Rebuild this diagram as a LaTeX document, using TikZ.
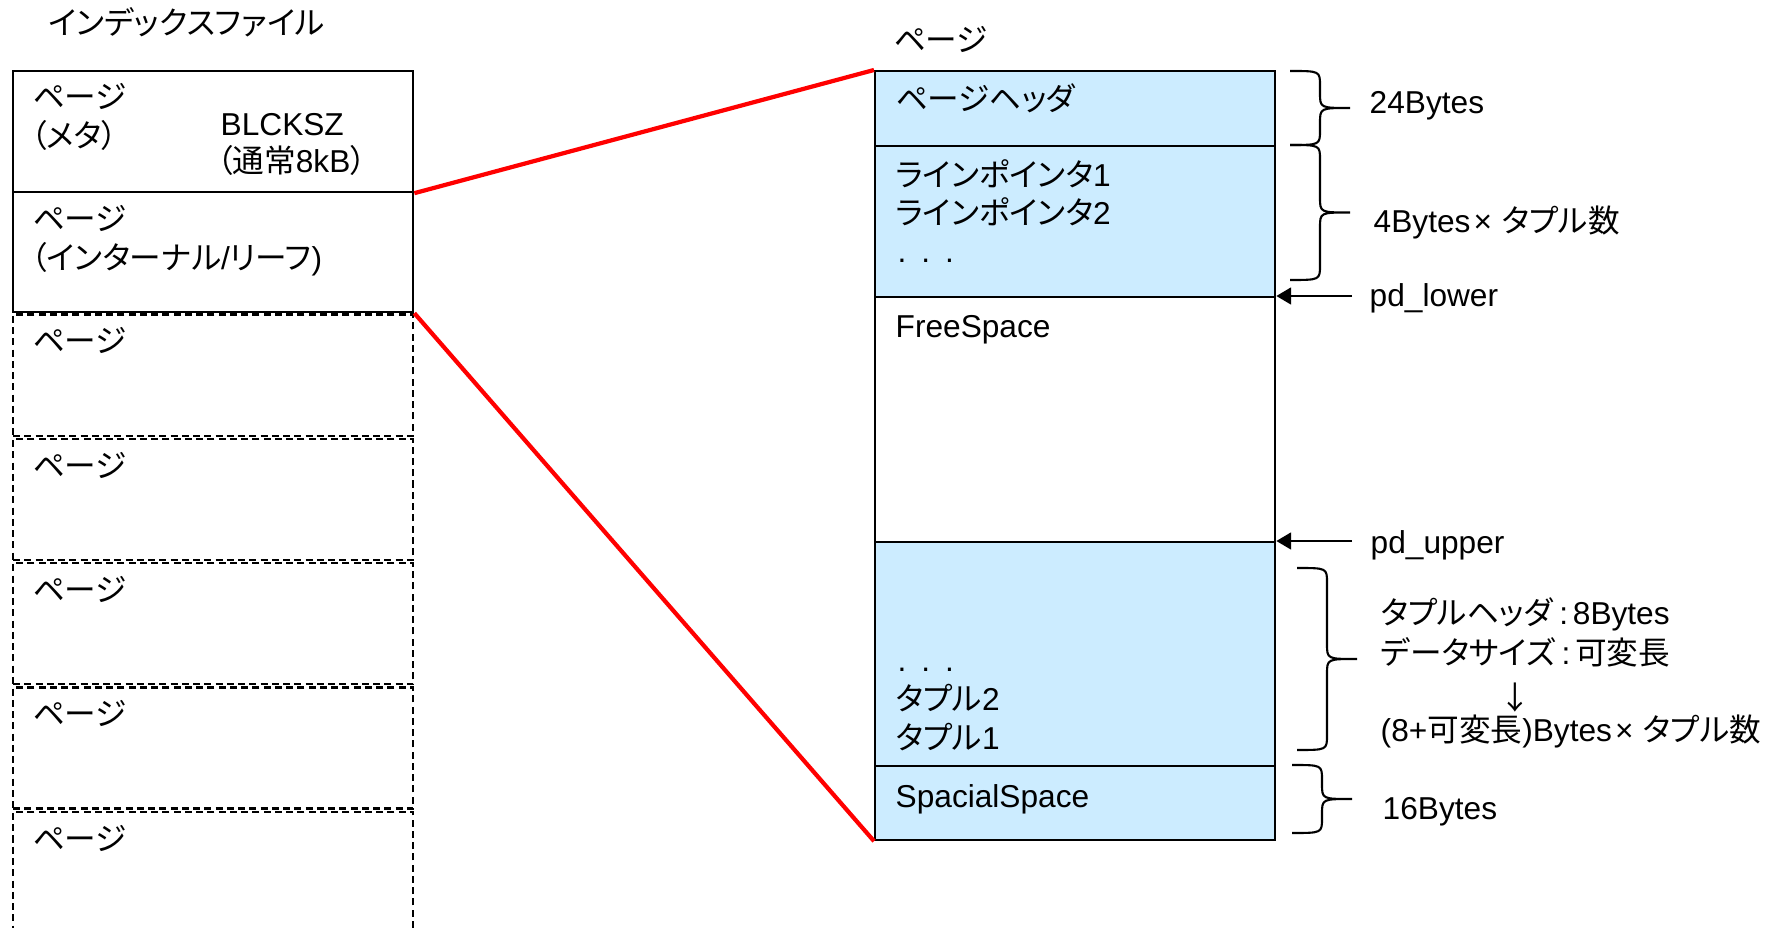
\documentclass[tikz,border=0pt]{standalone}
\usepackage{fontspec}
\setmainfont{Liberation Sans}
\newfontfamily\jp[RawFeature=+palt]{Noto Sans CJK JP}
\definecolor{CellColor}{RGB}{204,236,255}
\definecolor{LinkColor}{RGB}{255,0,0}
\usetikzlibrary{arrows.meta}
\tikzstyle{txt} = [inner sep=0pt, anchor=base west, font=\fontsize{9pt}{11pt}\selectfont]
\tikzstyle{page} = [draw, line width=0.6pt, minimum width=4cm, anchor=north west, inner sep=0pt]
\tikzstyle{cell} = [page, fill=CellColor]
\tikzstyle{spare} = [page, dash pattern=on 2pt off 1.2pt]
\tikzstyle{link} = [line width=1.2pt, LinkColor]
\tikzstyle{ptr} = [line width=0.6pt, -{Triangle[length=4.2pt,width=4.8pt]}]
\tikzstyle{brc} = [line width=0.6pt]
\newcommand{\sizebrace}[3]{%
  \draw[brc] (#1,#2) .. controls ({#1+30},#2) .. ({#1+30},{#2+15})
    -- ({#1+30},{(#2+#3)/2-15}) .. controls ({#1+30},{(#2+#3)/2}) .. ({#1+60},{(#2+#3)/2})
    .. controls ({#1+30},{(#2+#3)/2}) .. ({#1+30},{(#2+#3)/2+15})
    -- ({#1+30},{#3-15}) .. controls ({#1+30},#3) .. (#1,#3);}
\begin{document}
\begin{tikzpicture}[x=0.01cm, y=-0.01cm]
                \useasboundingbox (0,0) rectangle (1773,928);

                % Index file
                \node[txt] (idxttl) at (48,35) {\jp インデックスファイル};
                \node[page, minimum height=1.21cm] (meta) at (12,70) {};
                \node[page, minimum height=1.20cm] (inner) at (12,191) {};
                \foreach \i in {0,...,4} {
                    \node[spare, minimum height=1.21cm] (leaf\i) at (12,{313.5+124.3*\i}) {};
                    \node[txt] (leafp\i) at (32,{353+124.3*\i}) {\jp ページ};
                }
                \node[txt] (metap) at (32,109) {\jp ページ};
                \node[txt] (metam) at (30,148) {\jp （メタ）};
                \node[txt] (blk) at (220,136) {BLCKSZ};
                \node[txt] (blkn) at (216,173) {{\jp （通常}8kB{\jp ）}};
                \node[txt] (innp) at (32,231) {\jp ページ};
                \node[txt] (innm) at (30,270) {{\jp （インターナル}/{\jp リーフ})};

                % Page layout
                \node[txt] (pgttl) at (893,52) {\jp ページ};
                \node[cell, minimum height=0.75cm] (hdr) at (874,70) {};
                \node[cell, minimum height=1.51cm] (lines) at (874,145) {};
                \node[page, minimum height=2.45cm] (free) at (874,296) {};
                \node[cell, minimum height=2.24cm] (tuples) at (874,541) {};
                \node[cell, minimum height=0.74cm] (special) at (874,765) {};

                \node[txt] (hdrt) at (895,111) {\jp ページヘッダ};
                \node[txt] (lp1) at (895,187) {{\jp ラインポインタ}1};
                \node[txt] (lp2) at (895,225) {{\jp ラインポインタ}2};
                \node[txt] (lpd) at (897,263) {.\hspace{0.47em}.\hspace{0.47em}.};
                \node[txt] (fs) at (895,338) {FreeSpace};
                \node[txt] (tpd) at (897,671) {.\hspace{0.47em}.\hspace{0.47em}.};
                \node[txt] (tp2) at (895,710) {{\jp タプル}2};
                \node[txt] (tp1) at (895,749) {{\jp タプル}1};
                \node[txt] (sp) at (895,807) {SpacialSpace};

                % Zoom lines
                \draw[link] (meta.south east) -- (hdr.north west);
                \draw[link] (inner.south east) -- (special.south west);

                % Sizes
                \sizebrace{1290}{71}{145}
                \sizebrace{1290}{145}{280}
                \sizebrace{1297}{568}{750}
                \sizebrace{1292}{765}{833}
                \node[txt] (sz1) at (1369,114) {24Bytes};
                \node[txt] (sz2) at (1373,233) {4Bytes\kern0.1em×\kern0.3em{\jp タプル数}};
                \node[txt] (sz3a) at (1380,625) {{\jp タプルヘッダ}\kern0.2em:\kern0.15em8Bytes};
                \node[txt] (sz3b) at (1380,664) {{\jp データサイズ}\kern0.2em:\kern0.15em{\jp 可変長}};
                \node[txt, anchor=base] (sz3c) at (1515,709) {\jp ↓};
                \node[txt] (sz3d) at (1380,741) {(8+{\jp 可変長})Bytes\kern0.1em×\kern0.3em{\jp タプル数}};
                \node[txt] (sz4) at (1382,819) {16Bytes};

                % Pointers
                \node[txt] (lower) at (1369,307) {pd\_lower};
                \node[txt] (upper) at (1370,554) {pd\_upper};
                \coordinate (lowtail) at (1352,296);
                \coordinate (uptail) at (1352,541);
                \draw[ptr] (lowtail) -- (free.north east);
                \draw[ptr] (uptail) -- (tuples.north east);
\end{tikzpicture}
\end{document}
